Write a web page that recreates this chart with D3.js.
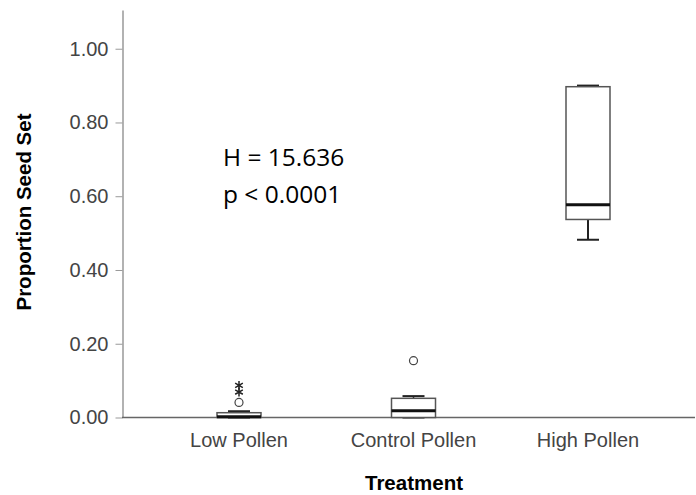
<!DOCTYPE html>
<html>
<head>
<meta charset="utf-8">
<script src="https://d3js.org/d3.v7.min.js"></script>
<style>
  body { margin: 0; background: #fff; }
</style>
</head>
<body>
<div id="chart"></div>
<script>
// box plot summaries
var categories = ["Low Pollen", "Control Pollen", "High Pollen"];
var whiskerLo  = [0.000, 0.000, 0.482];
var q1         = [0.000, 0.000, 0.537];
var medians    = [0.002, 0.018, 0.577];
var q3         = [0.013, 0.052, 0.897];
var whiskerHi  = [0.017, 0.058, 0.900];
// outliers (circles) and extremes (stars)
var outlierCat = ["Low Pollen", "Control Pollen"];
var outlierVal = [0.041, 0.154];
var extremeCat = ["Low Pollen", "Low Pollen"];
var extremeVal = [0.069, 0.087];
var yTicks = [0, 0.2, 0.4, 0.6, 0.8, 1.0];

var W = 696, H = 495;
var sans = "'Liberation Sans', Arial, sans-serif";
var svg = d3.select("#chart").append("svg")
    .attr("width", W).attr("height", H);

var y = d3.scaleLinear().domain([0, 1.105]).range([417.5, 10]);
var x = d3.scalePoint().domain(categories).range([239, 588]);

var boxHalf = 22, capHalf = 11;
var lineCol = "#555";

// y axis
var yAxis = svg.append("g")
    .attr("transform", "translate(122.5,0)")
    .call(d3.axisLeft(y).tickValues(yTicks).tickFormat(d3.format(".2f")).tickSize(7).tickSizeOuter(0).tickPadding(7));
yAxis.select(".domain").attr("stroke", "#999").attr("stroke-width", 1.5);
yAxis.selectAll(".tick line").attr("stroke", "#999");
yAxis.selectAll(".tick text").attr("fill", "#444")
    .style("font-family", sans).style("font-size", "20px");

// x axis baseline
svg.append("line")
    .attr("x1", 122).attr("x2", 695)
    .attr("y1", y(0)).attr("y2", y(0))
    .attr("stroke", "#666").attr("stroke-width", 1.5);

svg.selectAll(".xlab").data(categories).enter().append("text")
    .attr("x", function(d) { return x(d); })
    .attr("y", 447)
    .attr("text-anchor", "middle")
    .attr("fill", "#444")
    .style("font-family", sans).style("font-size", "20px")
    .text(function(d) { return d; });

// axis titles
svg.append("text")
    .attr("x", 414).attr("y", 490)
    .attr("text-anchor", "middle")
    .style("font-family", sans).style("font-size", "20.5px").style("font-weight", "bold")
    .text("Treatment");

svg.append("text")
    .attr("transform", "translate(31,212) rotate(-90)")
    .attr("text-anchor", "middle")
    .style("font-family", sans).style("font-size", "20.5px").style("font-weight", "bold")
    .text("Proportion Seed Set");

// boxes
var g = svg.append("g");
categories.forEach(function(c, i) {
  var cx = x(c);
  // whiskers
  g.append("line").attr("x1", cx).attr("x2", cx)
    .attr("y1", y(q3[i])).attr("y2", y(whiskerHi[i]))
    .attr("stroke", "#222").attr("stroke-width", 1.5);
  g.append("line").attr("x1", cx).attr("x2", cx)
    .attr("y1", y(q1[i])).attr("y2", y(whiskerLo[i]))
    .attr("stroke", "#222").attr("stroke-width", 2);
  [whiskerLo[i], whiskerHi[i]].forEach(function(v) {
    g.append("line").attr("x1", cx - capHalf).attr("x2", cx + capHalf)
      .attr("y1", y(v)).attr("y2", y(v))
      .attr("stroke", "#222").attr("stroke-width", 2);
  });
  g.append("rect")
    .attr("x", cx - boxHalf).attr("width", boxHalf * 2)
    .attr("y", y(q3[i])).attr("height", y(q1[i]) - y(q3[i]))
    .attr("fill", "#fff").attr("stroke", lineCol).attr("stroke-width", 1.5);
  g.append("line").attr("x1", cx - boxHalf).attr("x2", cx + boxHalf)
    .attr("y1", y(medians[i])).attr("y2", y(medians[i]))
    .attr("stroke", "#111").attr("stroke-width", 3);
});

// outliers
svg.selectAll(".out").data(outlierVal).enter().append("circle")
    .attr("cx", function(d, i) { return x(outlierCat[i]); })
    .attr("cy", function(d) { return y(d); })
    .attr("r", 4)
    .attr("fill", "none").attr("stroke", "#444").attr("stroke-width", 1.2);

svg.selectAll(".ext").data(extremeVal).enter().append("path")
    .attr("transform", function(d, i) { return "translate(" + x(extremeCat[i]) + "," + y(d) + ")"; })
    .attr("d", d3.symbol().type(d3.symbolAsterisk).size(55))
    .attr("fill", "none").attr("stroke", "#222").attr("stroke-width", 1.5);

// annotation
var note = svg.append("g");
note.append("text").attr("x", 223).attr("y", 166)
    .style("font-family", "'Open Sans', sans-serif").style("font-size", "24.5px")
    .text("H = 15.636");
note.append("text").attr("x", 223).attr("y", 203)
    .style("font-family", "'Open Sans', sans-serif").style("font-size", "24.5px")
    .text("p < 0.0001");
</script>
</body>
</html>
